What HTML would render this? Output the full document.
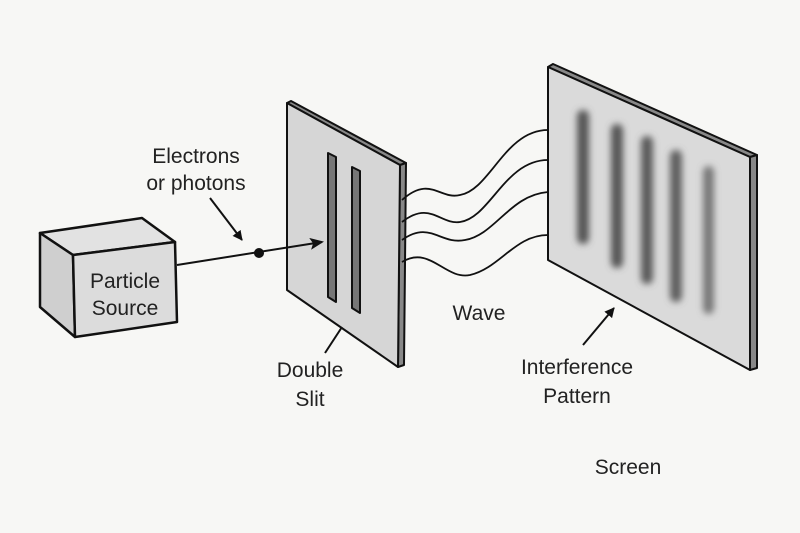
<!DOCTYPE html>
<html><head><meta charset="utf-8"><style>
html,body{margin:0;padding:0;background:#f7f7f5;}
svg{display:block}
text{font-family:"Liberation Sans",sans-serif;fill:#222;font-size:21px}
</style></head><body>
<svg width="800" height="533" viewBox="0 0 800 533">
<defs>
<filter id="b" x="-80%" y="-10%" width="260%" height="120%"><feGaussianBlur stdDeviation="3.5"/></filter>
<marker id="ah" markerWidth="14" markerHeight="12" refX="12" refY="6" orient="auto" markerUnits="userSpaceOnUse"><path d="M0,0 L14,6 L0,12 L3,6 Z" fill="#111"/></marker>
<marker id="as" markerWidth="10" markerHeight="10" refX="9" refY="5" orient="auto" markerUnits="userSpaceOnUse"><path d="M0,0 L10,5 L0,10 Z" fill="#111"/></marker>
</defs>
<rect width="800" height="533" fill="#f7f7f5"/>
<!-- box -->
<g stroke="#111" stroke-width="2.5" stroke-linejoin="round">
<polygon points="40,233 142,218 175,242 73,255" fill="#e2e2e2"/>
<polygon points="40,233 73,255 75,337 40,307" fill="#cfcfcf"/>
<polygon points="73,255 175,242 177,322 75,337" fill="#dcdcdc"/>
</g>
<text x="125" y="288" text-anchor="middle">Particle</text>
<text x="125" y="315" text-anchor="middle">Source</text>
<line x1="210" y1="198" x2="242" y2="240" stroke="#111" stroke-width="2" marker-end="url(#as)"/>
<text x="196" y="163" text-anchor="middle">Electrons</text>
<text x="196" y="190" text-anchor="middle">or photons</text>
<!-- slit plate -->
<g stroke="#111" stroke-width="2" stroke-linejoin="round">
<polygon points="287,103 291,101 406,163 400,165" fill="#888"/>
<polygon points="400,165 406,163 404,365 398,367" fill="#888"/>
<polygon points="287,103 400,165 398,367 287,290" fill="#d6d6d6"/>
<polygon points="328,153 336,157 336,302 328,297" fill="#777"/>
<polygon points="352,167 360,171 360,313 352,308" fill="#777"/>
</g>
<!-- beam -->
<line x1="177" y1="265" x2="322" y2="242" stroke="#111" stroke-width="2" marker-end="url(#ah)"/>
<circle cx="259" cy="253" r="5" fill="#111"/>
<line x1="325" y1="353" x2="342" y2="327" stroke="#111" stroke-width="2"/>
<text x="310" y="377" text-anchor="middle">Double</text>
<text x="310" y="406" text-anchor="middle">Slit</text>
<!-- waves -->
<g fill="none" stroke="#111" stroke-width="1.8">
<path d="M402,200 C430,175 440,200 460,195 C490,190 505,130 548,130"/>
<path d="M402,222 C430,200 440,225 460,222 C490,218 505,160 548,160"/>
<path d="M402,240 C430,220 440,245 465,240 C495,235 510,195 548,192"/>
<path d="M402,262 C430,245 445,280 470,275 C500,268 515,235 548,235"/>
</g>
<text x="479" y="320" text-anchor="middle">Wave</text>
<!-- screen -->
<g stroke="#111" stroke-width="2" stroke-linejoin="round">
<polygon points="548,67 553,64 757,155 750,157" fill="#888"/>
<polygon points="750,157 757,155 757,368 750,370" fill="#888"/>
<polygon points="548,67 750,157 750,370 548,260" fill="#dadada"/>
</g>
<g filter="url(#b)">
<rect x="577" y="110" width="12" height="134" rx="6" fill="#555"/>
<rect x="611" y="124" width="12" height="144" rx="6" fill="#555"/>
<rect x="641" y="136" width="12" height="148" rx="6" fill="#5a5a5a"/>
<rect x="670" y="150" width="12" height="152" rx="6" fill="#5f5f5f"/>
<rect x="703" y="166" width="11" height="148" rx="6" fill="#777"/>
</g>
<line x1="583" y1="345" x2="614" y2="308" stroke="#111" stroke-width="2" marker-end="url(#as)"/>
<text x="577" y="374" text-anchor="middle">Interference</text>
<text x="577" y="403" text-anchor="middle">Pattern</text>
<text x="628" y="474" text-anchor="middle">Screen</text>
</svg>
</body></html>
